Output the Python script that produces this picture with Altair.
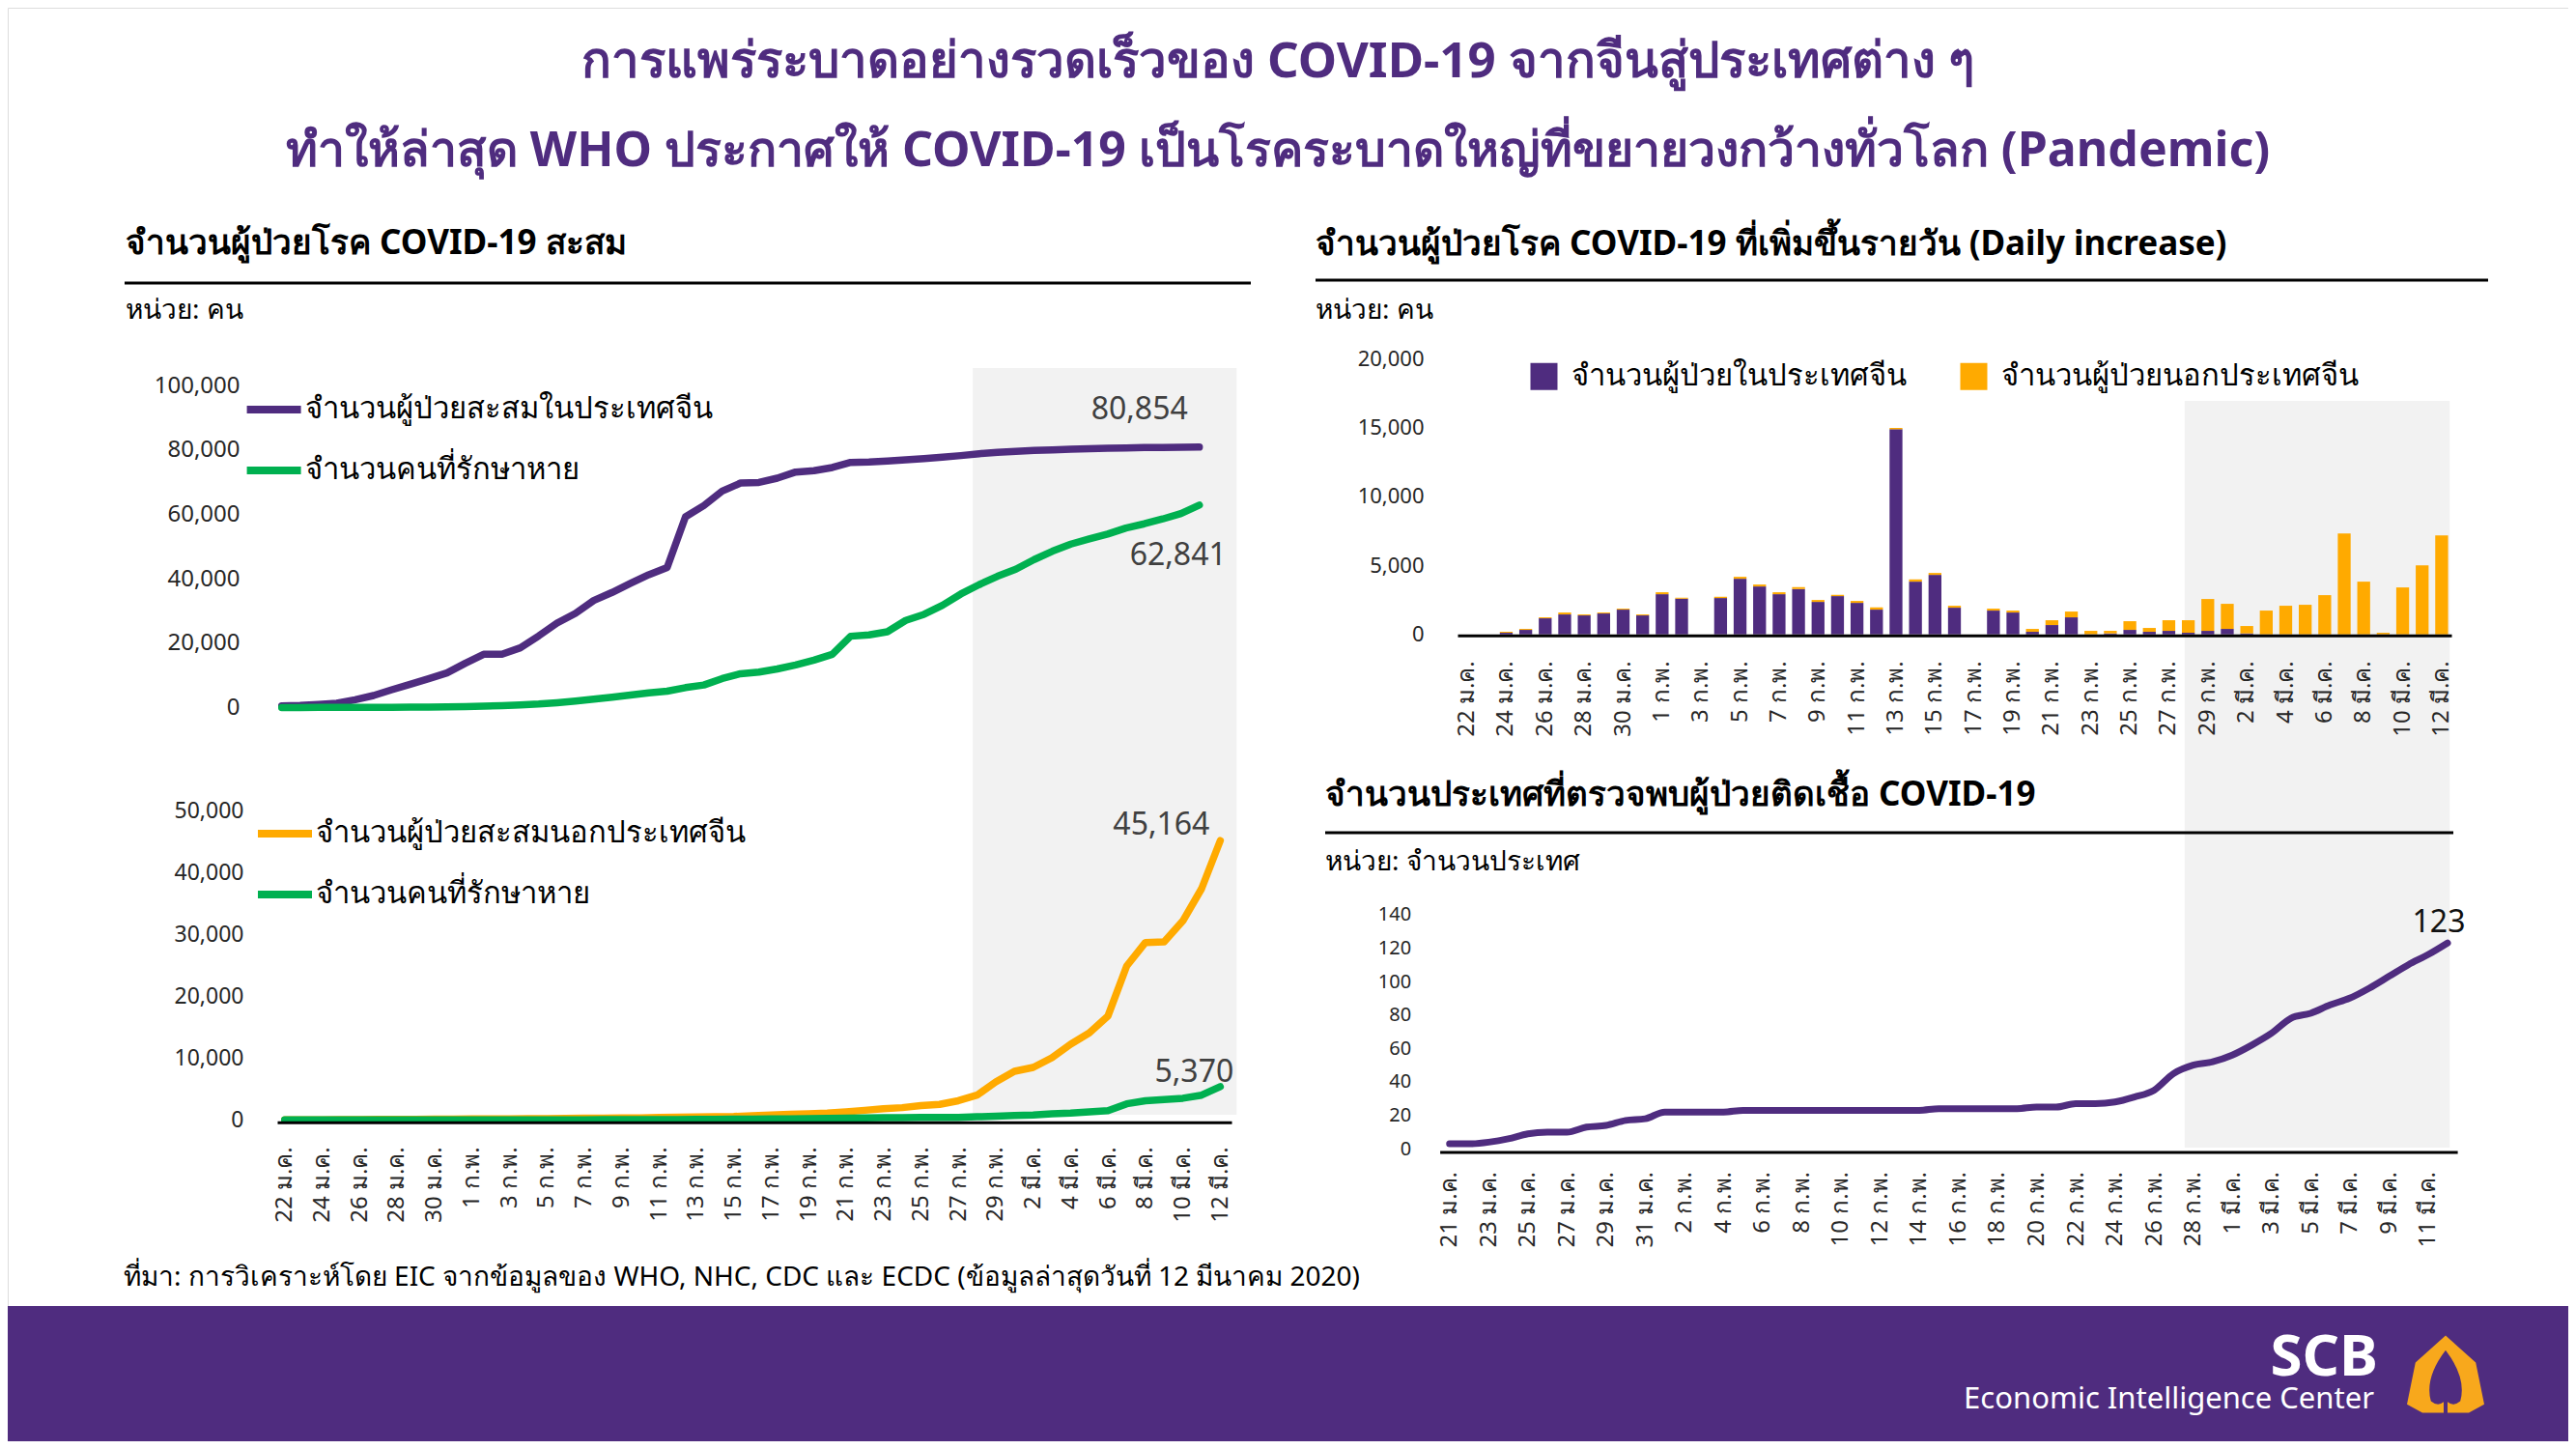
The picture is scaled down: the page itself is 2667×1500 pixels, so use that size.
import altair as alt
import pandas as pd

# ---------------------------------------------------------------- data
dates_51 = ([f"{d} ม.ค." for d in range(22, 32)]
            + [f"{d} ก.พ." for d in range(1, 30)]
            + [f"{d} มี.ค." for d in range(1, 13)])
dates_52 = ([f"{d} ม.ค." for d in range(21, 32)]
            + [f"{d} ก.พ." for d in range(1, 30)]
            + [f"{d} มี.ค." for d in range(1, 13)])

# cumulative cases in China / recovered (22 Jan - 12 Mar)
china_cum = [550, 650, 950, 1350, 2450, 3750, 5550, 7250, 8950, 10750, 13750, 16550, 16550,
             18550, 22250, 26250, 29250, 33250, 35750, 38550, 41250, 43500, 59200, 62700,
             67200, 69700, 69900, 71220, 73120, 73520, 74520, 76120, 76220, 76520, 76920,
             77320, 77720, 78220, 78800, 79250, 79500, 79800, 80000, 80200, 80350, 80500,
             80600, 80700, 80750, 80800, 80854]
china_rec = [30, 30, 40, 40, 50, 60, 100, 120, 140, 210, 280, 460, 600, 850, 1100, 1500,
             2000, 2600, 3200, 3900, 4600, 5100, 6200, 7000, 9000, 10500, 11000, 12000,
             13250, 14750, 16550, 22150, 22550, 23550, 27050, 28950, 31750, 35250, 38150,
             40750, 42950, 45950, 48550, 50750, 52350, 53850, 55750, 57050, 58550, 60250,
             62841]

# cumulative cases outside China / recovered
out_cum = [10, 15, 25, 40, 55, 70, 80, 100, 120, 140, 150, 160, 180, 190, 220, 230, 270,
           290, 310, 320, 400, 450, 470, 520, 550, 690, 800, 900, 1000, 1100, 1300, 1550,
           1800, 1980, 2300, 2500, 3100, 4000, 6150, 7860, 8490, 10050, 12240, 14060,
           16820, 24890, 28690, 28800, 32180, 37390, 45164]
out_rec = [0, 0, 0, 0, 0, 0, 0, 0, 1, 2, 3, 5, 6, 8, 11, 14, 20, 28, 36, 44, 55, 65, 78,
           95, 110, 130, 150, 180, 220, 260, 300, 330, 350, 370, 380, 390, 400, 500, 600,
           700, 800, 1000, 1100, 1300, 1500, 2600, 3100, 3300, 3500, 4000, 5370]

# daily increase
daily_china = [0, 0, 117, 326, 1165, 1445, 1375, 1515, 1794, 1375, 2912, 2586, 0, 2633,
               4031, 3472, 2912, 3285, 2353, 2773, 2283, 1794, 14865, 3821, 4311, 1934, 0,
               1724, 1584, 186, 676, 1235, 10, 70, 326, 186, 256, 117, 256, 396, 70, 0, 0,
               0, 0, 0, 0, 0, 0, 0, 0]
daily_out = [0, 0, 70, 70, 70, 140, 70, 70, 70, 70, 140, 70, 0, 93, 140, 140, 140, 140,
             140, 93, 140, 163, 94, 163, 140, 140, 0, 140, 140, 210, 349, 419, 246, 186,
             629, 280, 769, 908, 2307, 1818, 536, 1724, 2074, 2144, 2843, 7316, 3821, 117,
             3402, 5010, 7176]

# number of countries with confirmed cases (21 Jan - 12 Mar)
countries = [3, 3, 4, 6, 9, 10, 10, 13, 14, 17, 18, 22, 22, 22, 22, 23, 23, 23, 23, 23, 23,
             23, 23, 23, 23, 24, 24, 24, 24, 24, 25, 25, 27, 27, 28, 31, 35, 45, 50, 52, 56,
             62, 69, 78, 81, 86, 90, 96, 103, 110, 116, 123]

tl_names = ["จำนวนผู้ป่วยสะสมในประเทศจีน", "จำนวนคนที่รักษาหาย"]
bl_names = ["จำนวนผู้ป่วยสะสมนอกประเทศจีน", "จำนวนคนที่รักษาหาย"]
rb_names = ["จำนวนผู้ป่วยในประเทศจีน", "จำนวนผู้ป่วยนอกประเทศจีน"]

title_1 = "การแพร่ระบาดอย่างรวดเร็วของ COVID-19 จากจีนสู่ประเทศต่าง ๆ"
title_2 = "ทำให้ล่าสุด WHO ประกาศให้ COVID-19 เป็นโรคระบาดใหญ่ที่ขยายวงกว้างทั่วโลก (Pandemic)"
left_title = "จำนวนผู้ป่วยโรค COVID-19 สะสม"
right_title_1 = "จำนวนผู้ป่วยโรค COVID-19 ที่เพิ่มขึ้นรายวัน (Daily increase)"
right_title_2 = "จำนวนประเทศที่ตรวจพบผู้ป่วยติดเชื้อ COVID-19"
unit_people = "หน่วย: คน"
unit_countries = "หน่วย: จำนวนประเทศ"
source_text = ("ที่มา: การวิเคราะห์โดย EIC จากข้อมูลของ WHO, NHC, CDC และ ECDC "
               "(ข้อมูลล่าสุดวันที่ 12 มีนาคม 2020)")
brand_1 = "SCB"
brand_2 = "Economic Intelligence Center"

# highlighted period (day index from 22 Jan)
highlight = pd.DataFrame({"start": [36.78], "end": [50.88]})
highlight_r = pd.DataFrame({"start": [36.8], "end": [50.4]})

# ---------------------------------------------------------------- style / layout
PURPLE = "#4F2C7F"
GREEN = "#00B050"
ORANGE = "#FFAA00"
BAND = "#F2F2F2"
LOGO = "#F8A81C"
FONT = "Noto Sans"
W, H = 2651, 1484


def X(p):
    return p - 8


def Y(p):
    return p - 8


def y_axis(right_edge, values, size, fmt=",d"):
    return alt.Axis(orient="left", offset=-X(right_edge), values=values, format=fmt,
                    ticks=False, tickSize=0, domain=False, grid=False, labelPadding=0,
                    labelFontSize=size, labelFont=FONT, labelColor="#262626", title=None,
                    zindex=1)


def x_axis(axis_y, values, pad):
    return alt.Axis(orient="bottom", offset=Y(axis_y) - H, values=values, labelAngle=-90,
                    labelPadding=pad, ticks=False, tickSize=0, domain=True,
                    domainColor="#000000", domainWidth=3, grid=False, labelFontSize=24,
                    labelFont=FONT, labelColor="#262626", title=None, zindex=1,
                    labelOverlap=False)


def line_legend(lx, ly):
    return alt.Legend(orient="none", legendX=X(lx), legendY=Y(ly), title=None,
                      direction="vertical", symbolType="stroke", symbolSize=3136,
                      symbolStrokeWidth=8, labelFont=FONT, labelFontSize=31,
                      labelColor="#000000", labelLimit=2000, labelOffset=0,
                      rowPadding=15, padding=0)


def txt(text, x, y, size, weight="normal", color="#000000", align="left"):
    return alt.Chart(pd.DataFrame({"t": [text]})).mark_text(
        fontSize=size, fontWeight=weight, color=color, align=align, baseline="middle",
        font=FONT).encode(x=alt.value(X(x)), y=alt.value(Y(y)), text="t:N")


def hrule(x1, x2, y, w=3):
    return alt.Chart(pd.DataFrame({"k": [0]})).mark_rule(
        color="#000000", strokeWidth=w).encode(
        x=alt.value(X(x1)), x2=alt.value(X(x2)), y=alt.value(Y(y)))


# ---------------------------------------------------------------- highlight bands
band_left = alt.Chart(highlight).mark_rect(color=BAND).encode(
    x=alt.X("start:Q", scale=alt.Scale(domain=[0, 50], range=[X(294.7), X(1263.3)],
                                       nice=False, zero=False), axis=None),
    x2="end:Q",
    y=alt.value(Y(381)), y2=alt.value(Y(1154)))

band_right = alt.Chart(highlight_r).mark_rect(color=BAND).encode(
    x=alt.X("start:Q", scale=alt.Scale(domain=[0, 50], range=[X(1519.2), X(2528.2)],
                                       nice=False, zero=False), axis=None),
    x2="end:Q",
    y=alt.value(Y(415)), y2=alt.value(Y(1188)))

# ---------------------------------------------------------------- top-left
df_tl = pd.DataFrame({"date": dates_51 * 2, "value": china_cum + china_rec,
                      "series": [tl_names[0]] * 51 + [tl_names[1]] * 51})
tl_x = alt.X("date:N", scale=alt.Scale(type="point", domain=dates_51,
                                       range=[X(291.7), X(1241.7)], padding=0), axis=None)
tl_y = alt.Y("value:Q", scale=alt.Scale(domain=[0, 100000], range=[Y(732.5), Y(399)],
                                        nice=False, zero=False),
             axis=y_axis(248, list(range(0, 100001, 20000)), 24))
tl_lines = alt.Chart(df_tl).mark_line(strokeWidth=7.5, strokeCap="round",
                                      strokeJoin="round").encode(
    x=tl_x, y=tl_y,
    color=alt.Color("series:N", scale=alt.Scale(domain=tl_names, range=[PURPLE, GREEN]),
                    legend=line_legend(251.6, 392)))
tl_lab1 = alt.Chart(df_tl.iloc[[50]]).mark_text(
    dx=-62, dy=-39, fontSize=32, font=FONT, color="#404040").encode(
    x=tl_x, y=tl_y, text=alt.Text("value:Q", format=","))
tl_lab2 = alt.Chart(df_tl.iloc[[101]]).mark_text(
    dx=-22, dy=52, fontSize=32, font=FONT, color="#404040").encode(
    x=tl_x, y=tl_y, text=alt.Text("value:Q", format=","))
tl = alt.layer(tl_lines, tl_lab1, tl_lab2)

# ---------------------------------------------------------------- bottom-left
df_bl = pd.DataFrame({"date": dates_51 * 2, "value": out_cum + out_rec,
                      "series": [bl_names[0]] * 51 + [bl_names[1]] * 51})
bl_x = alt.X("date:N", scale=alt.Scale(type="point", domain=dates_51,
                                       range=[X(287), X(1275)], padding=0.5, align=0.4),
             axis=x_axis(1161.7, dates_51[::2], 25))
bl_y = alt.Y("value:Q", scale=alt.Scale(domain=[0, 50000], range=[Y(1159.3), Y(839.3)],
                                        nice=False, zero=False),
             axis=y_axis(252, list(range(0, 50001, 10000)), 23))
bl_lines = alt.Chart(df_bl).mark_line(strokeWidth=7.5, strokeCap="round",
                                      strokeJoin="round").encode(
    x=bl_x, y=bl_y,
    color=alt.Color("series:N", scale=alt.Scale(domain=bl_names, range=[ORANGE, GREEN]),
                    legend=line_legend(263, 831)))
bl_lab1 = alt.Chart(df_bl.iloc[[50]]).mark_text(
    dx=-61, dy=-16, fontSize=32, font=FONT, color="#404040").encode(
    x=bl_x, y=bl_y, text=alt.Text("value:Q", format=","))
bl_lab2 = alt.Chart(df_bl.iloc[[101]]).mark_text(
    dx=-27, dy=-15, fontSize=32, font=FONT, color="#404040").encode(
    x=bl_x, y=bl_y, text=alt.Text("value:Q", format=","))
bl = alt.layer(bl_lines, bl_lab1, bl_lab2)

# ---------------------------------------------------------------- right bars
df_rb = pd.DataFrame({"date": dates_51 * 2, "value": daily_china + daily_out,
                      "series": [rb_names[0]] * 51 + [rb_names[1]] * 51,
                      "order": [0] * 51 + [1] * 51})
rb = alt.Chart(df_rb).mark_bar().encode(
    x=alt.X("date:N", scale=alt.Scale(type="band", domain=dates_51,
                                      range=[X(1509), X(2538)], paddingInner=0.34,
                                      paddingOuter=0.17),
            axis=x_axis(657.7, dates_51[::2], 26)),
    y=alt.Y("value:Q", stack="zero",
            scale=alt.Scale(domain=[0, 20000], range=[Y(656.7), Y(371)], nice=False),
            axis=y_axis(1474, list(range(0, 20001, 5000)), 22)),
    color=alt.Color("series:N", scale=alt.Scale(domain=rb_names, range=[PURPLE, ORANGE]),
                    legend=alt.Legend(orient="none", legendX=X(1583), legendY=Y(374),
                                      title=None, direction="horizontal",
                                      symbolType="square", symbolSize=784,
                                      symbolStrokeWidth=0, labelFont=FONT,
                                      labelFontSize=31, labelColor="#000000",
                                      labelLimit=2000, labelOffset=13,
                                      columnPadding=54, padding=0)),
    order=alt.Order("order:Q", sort="ascending"))

# ---------------------------------------------------------------- right line
df_rl = pd.DataFrame({"date": dates_52, "value": countries})
rl_x = alt.X("date:N", scale=alt.Scale(type="point", domain=dates_52,
                                       range=[X(1490.6), X(2544.1)], padding=0.5),
             axis=x_axis(1192.5, dates_52[::2], 20))
rl_y = alt.Y("value:Q", scale=alt.Scale(domain=[0, 140], range=[Y(1189.3), Y(946.7)],
                                        nice=False, zero=False),
             axis=y_axis(1460.6, list(range(0, 141, 20)), 20, fmt="d"))
rl_line = alt.Chart(df_rl).mark_line(color=PURPLE, strokeWidth=7, interpolate="monotone",
                                     strokeCap="round").encode(x=rl_x, y=rl_y)
rl_lab = alt.Chart(df_rl.iloc[[51]]).mark_text(
    dx=-9, dy=-21, fontSize=32, font=FONT, color="#111111").encode(
    x=rl_x, y=rl_y, text=alt.Text("value:Q", format="d"))
rl = alt.layer(rl_line, rl_lab)

# ---------------------------------------------------------------- decoration
footer = alt.Chart(pd.DataFrame({"k": [0]})).mark_rect(color=PURPLE).encode(
    x=alt.value(0), x2=alt.value(W), y=alt.value(Y(1352)), y2=alt.value(H))

LOGO_PATH = ("M0.05,1 L0.6,1 L1,0.78 L0.78,-0.3 L0,-1 L-0.78,-0.3 L-1,0.78 L-0.6,1 "
             "L-0.05,1 L-0.05,0.72 Q-0.2,0.85 -0.38,0.7 Q-0.55,0.1 0,-0.62 "
             "Q0.55,0.1 0.38,0.7 Q0.2,0.85 0.05,0.72 Z")
logo = alt.Chart(pd.DataFrame({"k": [0]})).mark_point(
    shape=LOGO_PATH, size=6400, filled=True, color=LOGO, opacity=1, strokeWidth=0).encode(
    x=alt.value(X(2532)), y=alt.value(Y(1422.5)))

texts = [
    txt(title_1, 1323, 65, 51, "bold", PURPLE, "center"),
    txt(title_2, 1323, 157, 50, "bold", PURPLE, "center"),
    txt(left_title, 130, 252, 35, "bold"),
    txt(unit_people, 130, 322, 28),
    txt(right_title_1, 1362, 253, 35, "bold"),
    txt(unit_people, 1362, 322, 28),
    txt(right_title_2, 1372, 823, 35, "bold"),
    txt(unit_countries, 1372, 893, 28),
    txt(source_text, 128, 1323, 28),
    txt(brand_1, 2462, 1406, 60, "bold", "#FFFFFF", "right"),
    txt(brand_2, 2458, 1449, 31, "normal", "#FFFFFF", "right"),
]
rules = [hrule(129, 1295, 293), hrule(1362, 2576, 290), hrule(1372, 2540, 862)]

chart = alt.layer(
    band_left, band_right, footer, tl, bl, rb, rl, *rules, *texts, logo
).resolve_scale(
    x="independent", y="independent", color="independent"
).properties(
    width=W, height=H, autosize=alt.AutoSizeParams(type="none"), padding=0,
    background="white"
).configure_view(stroke=None).configure(font=FONT)

chart.save("out.html", embed_options={"renderer": "svg", "actions": False})
